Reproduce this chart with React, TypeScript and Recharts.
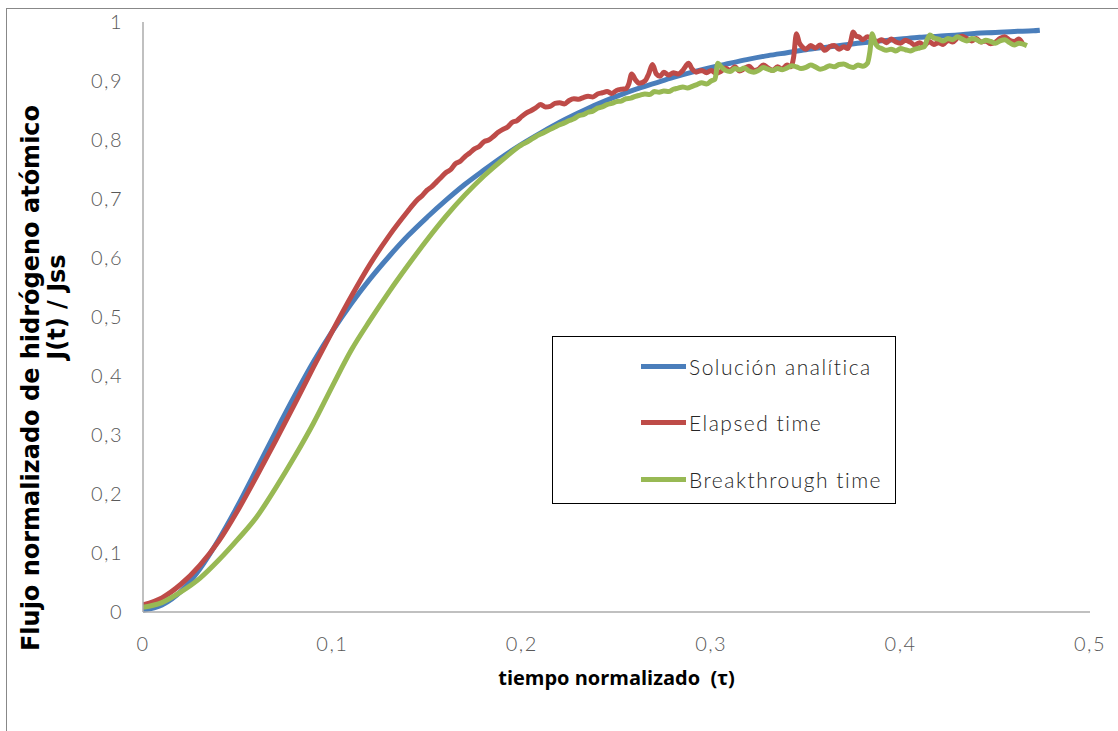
import React from 'react';
import { LineChart, Line, XAxis, YAxis, Legend } from 'recharts';

// Normalised time τ and normalised flux J(t)/Jss for each curve
const analyticalSolution: [number, number][] = [
  [0, 0.003], [0.01, 0.012], [0.02, 0.035], [0.03, 0.073], [0.04, 0.123], [0.05, 0.18],
  [0.06, 0.242], [0.07, 0.305], [0.08, 0.366], [0.09, 0.424], [0.1, 0.476], [0.11, 0.523],
  [0.12, 0.565], [0.13, 0.603], [0.14, 0.638], [0.15, 0.669], [0.16, 0.698], [0.17, 0.725],
  [0.18, 0.749], [0.19, 0.772], [0.2, 0.793], [0.21, 0.812], [0.22, 0.83], [0.23, 0.846],
  [0.24, 0.861], [0.25, 0.874], [0.26, 0.886], [0.27, 0.896], [0.28, 0.906], [0.29, 0.915],
  [0.3, 0.923], [0.31, 0.93], [0.32, 0.937], [0.33, 0.943], [0.34, 0.948], [0.35, 0.953],
  [0.36, 0.957], [0.37, 0.961], [0.38, 0.965], [0.39, 0.968], [0.4, 0.971], [0.41, 0.974],
  [0.42, 0.976], [0.43, 0.978], [0.44, 0.981], [0.45, 0.982], [0.46, 0.984], [0.47, 0.985],
  [0.4735, 0.986],
];

const elapsedTime: [number, number][] = [
  [0, 0.012], [0.01, 0.024], [0.02, 0.047], [0.03, 0.079], [0.04, 0.12], [0.05, 0.172],
  [0.06, 0.23], [0.07, 0.29], [0.08, 0.352], [0.09, 0.415], [0.1, 0.476], [0.11, 0.535],
  [0.12, 0.59], [0.13, 0.638], [0.14, 0.68], [0.1425, 0.69], [0.145, 0.699], [0.1475, 0.706],
  [0.15, 0.715], [0.1525, 0.721], [0.155, 0.729], [0.1575, 0.737], [0.16, 0.745], [0.1625, 0.75],
  [0.165, 0.76], [0.1675, 0.764], [0.17, 0.772], [0.1725, 0.778], [0.175, 0.785], [0.1775, 0.789],
  [0.18, 0.797], [0.1825, 0.8], [0.185, 0.806], [0.1875, 0.813], [0.19, 0.818], [0.1925, 0.822],
  [0.195, 0.83], [0.1975, 0.833], [0.2, 0.84], [0.2025, 0.846], [0.205, 0.85], [0.2075, 0.855],
  [0.21, 0.86], [0.2125, 0.856], [0.215, 0.857], [0.2175, 0.862], [0.22, 0.863], [0.2225, 0.861],
  [0.225, 0.867], [0.2275, 0.87], [0.23, 0.869], [0.2325, 0.872], [0.235, 0.874], [0.2375, 0.873],
  [0.24, 0.878], [0.2425, 0.88], [0.245, 0.882], [0.2475, 0.879], [0.25, 0.884], [0.2525, 0.886],
  [0.255, 0.887], [0.2565, 0.895], [0.258, 0.912], [0.26, 0.902], [0.262, 0.896], [0.265, 0.9],
  [0.267, 0.912], [0.269, 0.928], [0.271, 0.912], [0.273, 0.908], [0.275, 0.915], [0.2775, 0.91],
  [0.28, 0.914], [0.2825, 0.912], [0.285, 0.918], [0.2865, 0.925], [0.288, 0.93], [0.29, 0.92],
  [0.292, 0.915], [0.295, 0.918], [0.2975, 0.914], [0.3, 0.918], [0.3025, 0.913], [0.305, 0.916],
  [0.3075, 0.922], [0.31, 0.918], [0.3125, 0.924], [0.315, 0.917], [0.3175, 0.921], [0.32, 0.925],
  [0.3225, 0.918], [0.325, 0.92], [0.3275, 0.927], [0.33, 0.922], [0.3325, 0.918], [0.335, 0.924],
  [0.3375, 0.92], [0.34, 0.927], [0.342, 0.924], [0.3435, 0.94], [0.345, 0.98], [0.3465, 0.965],
  [0.348, 0.958], [0.35, 0.954], [0.3525, 0.96], [0.355, 0.956], [0.3575, 0.961], [0.36, 0.952],
  [0.3625, 0.958], [0.365, 0.96], [0.3675, 0.954], [0.37, 0.958], [0.372, 0.955], [0.3735, 0.965],
  [0.375, 0.983], [0.3765, 0.976], [0.378, 0.975], [0.38, 0.97], [0.3825, 0.975], [0.385, 0.972],
  [0.3875, 0.967], [0.39, 0.97], [0.3925, 0.965], [0.395, 0.971], [0.3975, 0.966], [0.4, 0.964],
  [0.4025, 0.969], [0.405, 0.966], [0.4075, 0.961], [0.41, 0.965], [0.4125, 0.96], [0.415, 0.967],
  [0.4175, 0.962], [0.42, 0.965], [0.4225, 0.962], [0.425, 0.969], [0.4275, 0.966], [0.43, 0.973],
  [0.4325, 0.976], [0.435, 0.972], [0.4375, 0.968], [0.44, 0.972], [0.4425, 0.966], [0.445, 0.968],
  [0.4475, 0.963], [0.45, 0.966], [0.4525, 0.972], [0.455, 0.975], [0.4575, 0.969], [0.46, 0.967],
  [0.4625, 0.971], [0.4646, 0.962],
];

const breakthroughTime: [number, number][] = [
  [0, 0.008], [0.01, 0.016], [0.02, 0.034], [0.03, 0.057], [0.04, 0.088], [0.05, 0.123],
  [0.06, 0.161], [0.07, 0.21], [0.08, 0.263], [0.09, 0.32], [0.1, 0.383], [0.11, 0.444],
  [0.12, 0.495], [0.13, 0.543], [0.14, 0.588], [0.15, 0.631], [0.16, 0.671], [0.17, 0.707],
  [0.18, 0.739], [0.19, 0.767], [0.2, 0.792], [0.2025, 0.796], [0.205, 0.801], [0.2075, 0.806],
  [0.21, 0.81], [0.2125, 0.814], [0.215, 0.818], [0.2175, 0.822], [0.22, 0.826], [0.2225, 0.829],
  [0.225, 0.833], [0.2275, 0.836], [0.23, 0.841], [0.2325, 0.843], [0.235, 0.847], [0.2375, 0.849],
  [0.24, 0.854], [0.2425, 0.856], [0.245, 0.86], [0.2475, 0.862], [0.25, 0.865], [0.2525, 0.866],
  [0.255, 0.87], [0.2575, 0.871], [0.26, 0.874], [0.2625, 0.876], [0.265, 0.878], [0.2675, 0.877],
  [0.27, 0.882], [0.2725, 0.881], [0.275, 0.883], [0.2775, 0.882], [0.28, 0.886], [0.2825, 0.888],
  [0.285, 0.89], [0.2875, 0.888], [0.29, 0.891], [0.2925, 0.894], [0.295, 0.897], [0.2975, 0.895],
  [0.3, 0.9], [0.302, 0.903], [0.3035, 0.93], [0.305, 0.925], [0.3075, 0.918], [0.31, 0.916],
  [0.3125, 0.921], [0.315, 0.919], [0.3175, 0.922], [0.32, 0.917], [0.3225, 0.915], [0.325, 0.918],
  [0.3275, 0.923], [0.33, 0.92], [0.3325, 0.918], [0.335, 0.921], [0.3375, 0.919], [0.34, 0.922],
  [0.3425, 0.926], [0.345, 0.924], [0.3475, 0.921], [0.35, 0.923], [0.3525, 0.927], [0.355, 0.924],
  [0.3575, 0.92], [0.36, 0.922], [0.3625, 0.926], [0.365, 0.924], [0.3675, 0.928], [0.37, 0.929],
  [0.3725, 0.925], [0.375, 0.923], [0.3775, 0.927], [0.38, 0.925], [0.3825, 0.93], [0.3838, 0.95],
  [0.385, 0.98], [0.3865, 0.965], [0.388, 0.958], [0.39, 0.955], [0.3925, 0.952], [0.395, 0.954],
  [0.3975, 0.951], [0.4, 0.955], [0.4025, 0.953], [0.405, 0.951], [0.4075, 0.954], [0.41, 0.956],
  [0.4125, 0.958], [0.414, 0.97], [0.4155, 0.978], [0.4175, 0.973], [0.42, 0.971], [0.4225, 0.968],
  [0.425, 0.972], [0.4275, 0.97], [0.43, 0.975], [0.4325, 0.971], [0.435, 0.968], [0.4375, 0.972],
  [0.44, 0.97], [0.4425, 0.966], [0.445, 0.969], [0.4475, 0.967], [0.45, 0.964], [0.4525, 0.968],
  [0.455, 0.97], [0.4575, 0.965], [0.46, 0.961], [0.4625, 0.964], [0.4667, 0.96],
];

const xTicks = [0, 0.1, 0.2, 0.3, 0.4, 0.5];
const xTickLabels = ['0', '0,1', '0,2', '0,3', '0,4', '0,5'];
const yTicks = [0, 0.1, 0.2, 0.3, 0.4, 0.5, 0.6, 0.7, 0.8, 0.9, 1];
const yTickLabels = ['0', '0,1', '0,2', '0,3', '0,4', '0,5', '0,6', '0,7', '0,8', '0,9', '1'];

const seriesNames = ['Solución analítica', 'Elapsed time', 'Breakthrough time'];
const seriesColors = ['#4A7EBB', '#BE4B48', '#98B954'];

const toPoints = (rows: [number, number][]) => rows.map(([t, j]) => ({ t, j }));

const tickFont = {
  fontFamily: 'Lato, "Open Sans", sans-serif',
  fontWeight: 300,
  fontSize: 20,
  letterSpacing: 1.5,
  fill: '#595959',
};

const labelFromList = (ticks: number[], labels: string[]) => (v: number) => {
  const i = ticks.findIndex((k) => Math.abs(k - v) < 1e-9);
  return i >= 0 ? labels[i] : String(v);
};

const YTitle = (props: any) => {
  const { viewBox } = props;
  const cy = viewBox.y + viewBox.height / 2;
  const l1x = 24;
  const l1y = cy + 61;
  const l2x = 50;
  const l2y = cy - 10;
  const font = '"DejaVu Sans", "Open Sans", sans-serif';
  return (
    <g>
      <text x={l1x} y={l1y} textAnchor="middle" dominantBaseline="central" transform={`rotate(-90, ${l1x}, ${l1y})`}
        fontFamily={font} fontWeight={700} fontSize={24} fill="#000">
        Flujo normalizado de hidrógeno atómico
      </text>
      <text x={l2x} y={l2y} textAnchor="middle" dominantBaseline="central" transform={`rotate(-90, ${l2x}, ${l2y})`}
        fontFamily={font} fontWeight={700} fontSize={24} fill="#000">
        J(t) / Jss
      </text>
    </g>
  );
};

const XTitle = (props: any) => {
  const { viewBox } = props;
  const cx = viewBox.x + viewBox.width / 2;
  return (
    <text x={cx} y={668} textAnchor="middle" dominantBaseline="central"
      fontFamily='"Open Sans", sans-serif' fontWeight={700} fontSize={20} fill="#000">
      {'tiempo normalizado\u00a0 (τ)'}
    </text>
  );
};

const LegendBox = () => (
  <div style={{ width: 344, height: 168, border: '1.5px solid #000', background: '#fff', boxSizing: 'border-box', position: 'relative' }}>
    {seriesNames.map((name, i) => (
      <div key={name} style={{ position: 'absolute', left: 88, top: 16 + i * 56.5, height: 26, display: 'flex', alignItems: 'center' }}>
        <div style={{ width: 45, height: 5, background: seriesColors[i] }} />
        <span style={{ marginLeft: 3, fontFamily: 'Lato, "Open Sans", sans-serif', fontWeight: 300, fontSize: 21, letterSpacing: 1.5, color: '#262626', whiteSpace: 'nowrap' }}>
          {name}
        </span>
      </div>
    ))}
  </div>
);

export default function App() {
  const sets = [analyticalSolution, elapsedTime, breakthroughTime];
  return (
    <div style={{ position: 'absolute', left: 6, top: 8, width: 1130, height: 740, border: '1px solid #888', background: '#fff' }}>
      <LineChart width={1100} height={720} margin={{ top: 13, right: 17, left: 0, bottom: 87 }}>
        <XAxis
          type="number"
          dataKey="t"
          domain={[0, 0.5]}
          ticks={xTicks}
          tickFormatter={labelFromList(xTicks, xTickLabels)}
          tickLine={false}
          tickSize={0}
          tickMargin={25}
          height={30}
          axisLine={{ stroke: '#ababab', strokeWidth: 1.5 }}
          tick={tickFont}
          allowDataOverflow
          label={{ content: XTitle }}
        />
        <YAxis
          type="number"
          dataKey="j"
          domain={[0, 1]}
          ticks={yTicks}
          tickFormatter={labelFromList(yTicks, yTickLabels)}
          tickLine={false}
          tickSize={0}
          tickMargin={20}
          width={136}
          axisLine={{ stroke: '#ababab', strokeWidth: 1.5 }}
          tick={tickFont}
          label={{ content: YTitle }}
        />
        {sets.map((rows, i) => (
          <Line
            key={seriesNames[i]}
            data={toPoints(rows)}
            dataKey="j"
            name={seriesNames[i]}
            type="monotone"
            stroke={seriesColors[i]}
            strokeWidth={5}
            strokeLinejoin="round"
            dot={false}
            activeDot={false}
            isAnimationActive={false}
          />
        ))}
        <Legend
          layout="horizontal"
          verticalAlign="middle"
          align="center"
          content={LegendBox}
          wrapperStyle={{ left: 545, top: 327, width: 344, height: 168 }}
        />
      </LineChart>
    </div>
  );
}
